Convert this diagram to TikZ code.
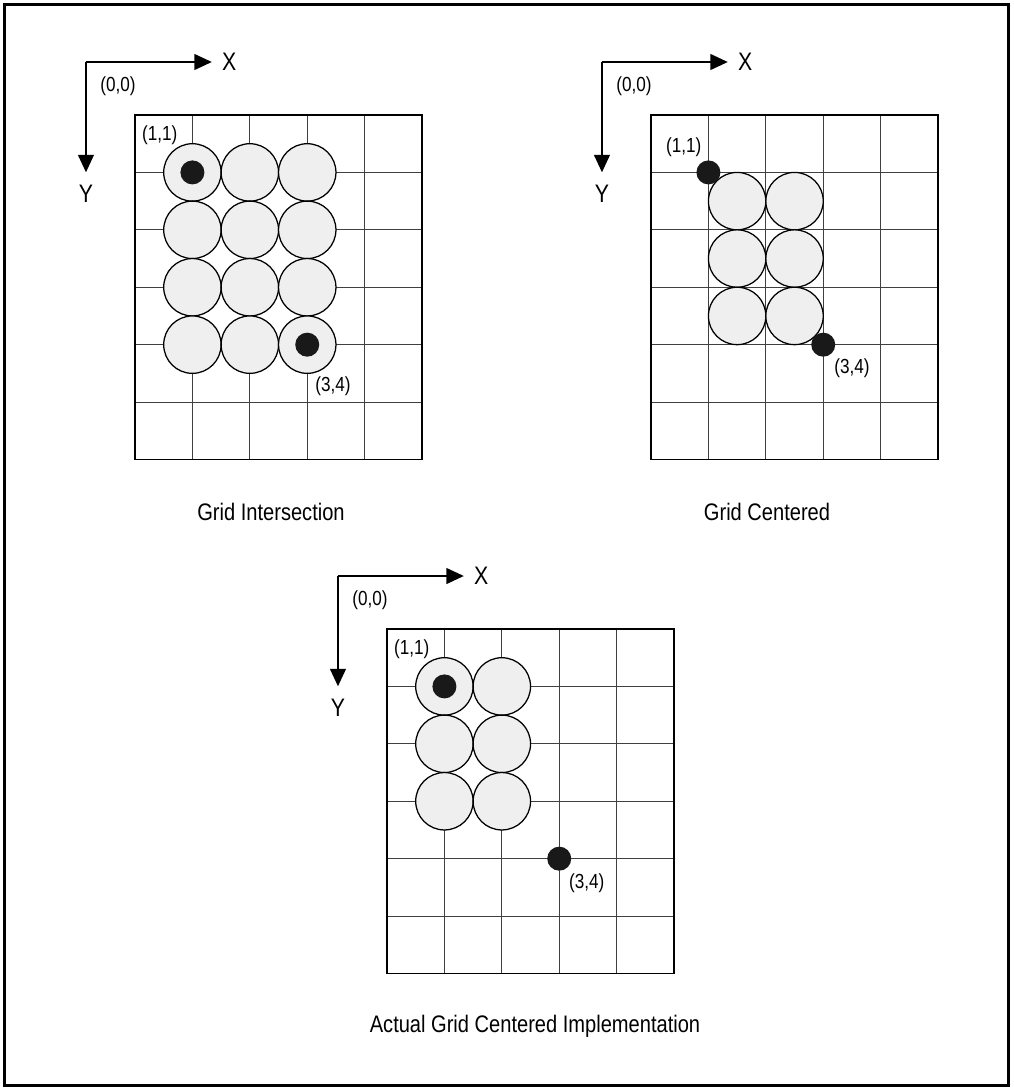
\documentclass[tikz,border=0pt]{standalone}
\usepackage{fontspec}
\setmainfont[FakeStretch=0.84]{Liberation Sans}
\usepackage{tikz}
\usetikzlibrary{positioning,arrows.meta}
\definecolor{stonegray}{HTML}{EFEFEF}
\tikzset{
  gridline/.style={draw=black!75,line width=0.6pt},
  gridframe/.style={draw=black,line width=0.9pt},
  stone/.style={circle,draw,line width=0.9pt,fill=stonegray,inner sep=0pt,minimum size=1.435cm},
  dot/.style={circle,fill=black!90,inner sep=0pt,minimum size=0.6cm},
  axis/.style={-{Triangle[length=12.5pt,width=11pt]},line width=2pt},
  lbl/.style={inner sep=0pt,font=\fontsize{14.5}{16}\selectfont},
  axlbl/.style={inner sep=0pt,font=\fontsize{18}{20}\selectfont},
  caption/.style={inner sep=0pt,font=\fontsize{17}{20}\selectfont}
}

\begin{document}
\begin{tikzpicture}[x=0.025cm,y=-0.025cm]
\useasboundingbox (0,0) rectangle (1013,1090);
\draw[line width=2.4pt] (4.8,4.8) rectangle (1008.5,1085.5);

% grid intersection
\begin{scope}[shift={(135,115)},x=1.435cm,y=-1.435cm]
\foreach \i in {1,...,4} \draw[gridline] (\i,0) -- (\i,6);
\foreach \j in {1,...,5} \draw[gridline] (0,\j) -- (5,\j);
\draw[gridframe] (0,0) rectangle (5,6);
\foreach \i in {1,2,3}
  \foreach \j in {1,...,4}
    \node[stone] (a-\i-\j) at (\i,\j) {};
\node[dot] (a-first) at (1,1) {};
\node[dot] (a-last) at (3,4) {};
\node[lbl] (a-11) at (0.43,0.35) {(1,1)};
\node[lbl] (a-34) at (3.45,4.72) {(3,4)};
\coordinate (a-o) at (-0.854,-0.923);
\coordinate (a-xe) at (1.34,-0.923);
\coordinate (a-ye) at (-0.854,1.0);
\draw[axis] (a-o) -- (a-xe);
\draw[axis] (a-o) -- (a-ye);
\node[axlbl] (a-x) at (1.64,-0.923) {X};
\node[axlbl] (a-y) at (-0.854,1.376) {Y};
\node[lbl] (a-00) at (-0.296,-0.505) {(0,0)};
\end{scope}

% grid centered
\begin{scope}[shift={(651,115)},x=1.435cm,y=-1.435cm]
\foreach \i in {1,...,4} \draw[gridline] (\i,0) -- (\i,6);
\foreach \j in {1,...,5} \draw[gridline] (0,\j) -- (5,\j);
\draw[gridframe] (0,0) rectangle (5,6);
\foreach \i in {1,2}
  \foreach \j in {1,2,3}
    \node[stone] (b-\i-\j) at (\i+0.5,\j+0.5) {};
\node[dot] (b-first) at (1,1) {};
\node[dot] (b-last) at (3,4) {};
\node[lbl] (b-11) at (0.57,0.56) {(1,1)};
\node[lbl] (b-34) at (3.5,4.41) {(3,4)};
\coordinate (b-o) at (-0.854,-0.923);
\coordinate (b-xe) at (1.34,-0.923);
\coordinate (b-ye) at (-0.854,1.0);
\draw[axis] (b-o) -- (b-xe);
\draw[axis] (b-o) -- (b-ye);
\node[axlbl] (b-x) at (1.64,-0.923) {X};
\node[axlbl] (b-y) at (-0.854,1.376) {Y};
\node[lbl] (b-00) at (-0.296,-0.505) {(0,0)};
\end{scope}

% actual implementation
\begin{scope}[shift={(387,629)},x=1.435cm,y=-1.435cm]
\foreach \i in {1,...,4} \draw[gridline] (\i,0) -- (\i,6);
\foreach \j in {1,...,5} \draw[gridline] (0,\j) -- (5,\j);
\draw[gridframe] (0,0) rectangle (5,6);
\foreach \i in {1,2}
  \foreach \j in {1,2,3}
    \node[stone] (c-\i-\j) at (\i,\j) {};
\node[dot] (c-first) at (1,1) {};
\node[dot] (c-last) at (3,4) {};
\node[lbl] (c-11) at (0.43,0.35) {(1,1)};
\node[lbl] (c-34) at (3.48,4.43) {(3,4)};
\coordinate (c-o) at (-0.854,-0.923);
\coordinate (c-xe) at (1.34,-0.923);
\coordinate (c-ye) at (-0.854,1.0);
\draw[axis] (c-o) -- (c-xe);
\draw[axis] (c-o) -- (c-ye);
\node[axlbl] (c-x) at (1.64,-0.923) {X};
\node[axlbl] (c-y) at (-0.854,1.376) {Y};
\node[lbl] (c-00) at (-0.296,-0.505) {(0,0)};
\end{scope}

\node[caption] (cap-a) at (271,512) {Grid Intersection};
\node[caption] (cap-b) at (767,512) {Grid Centered};
\node[caption] (cap-c) at (535,1026) {Actual Grid Centered Implementation};
\end{tikzpicture}
\end{document}
